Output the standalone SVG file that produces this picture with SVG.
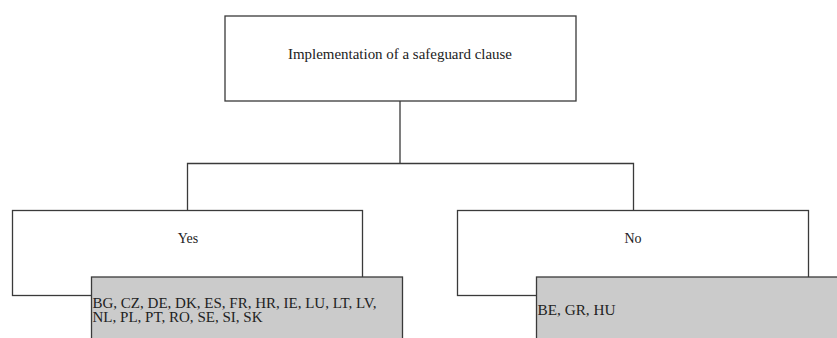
<svg xmlns="http://www.w3.org/2000/svg" width="837" height="338" viewBox="0 0 837 338">
<style>
.box{fill:#ffffff;stroke:#3a3a3a;stroke-width:1.3}
.gbox{fill:#cbcbcb;stroke:#3a3a3a;stroke-width:1.3}
.t{font-family:"Liberation Serif","Times New Roman",serif;fill:#222;font-size:14px}
.c{text-anchor:middle}
.conn{fill:none;stroke:#3a3a3a;stroke-width:1.3}
</style>
<rect width="837" height="338" fill="#ffffff"/>
<g id="connectors">
<path class="conn" d="M400,101 V163.5 M187.5,210.5 V163.5 H633.5 V210.5"/>
</g>
<g id="root">
<rect class="box" x="225" y="16" width="351" height="85"/>
<text class="t c" x="400" y="59" textLength="224" lengthAdjust="spacingAndGlyphs">Implementation of a safeguard clause</text>
</g>
<g id="yes">
<rect class="box" x="12.5" y="210.5" width="350" height="85"/>
<text class="t c" x="188" y="243">Yes</text>
</g>
<g id="no">
<rect class="box" x="457.5" y="210.5" width="351" height="85"/>
<text class="t c" x="633" y="243">No</text>
</g>
<g id="yes-list">
<rect class="gbox" x="91.5" y="277" width="311" height="70"/>
<text class="t" x="92.5" y="308" font-size="15" textLength="284" lengthAdjust="spacingAndGlyphs">BG, CZ, DE, DK, ES, FR, HR, IE, LU, LT, LV,</text>
<text class="t" x="92.5" y="322" font-size="15" textLength="170" lengthAdjust="spacingAndGlyphs">NL, PL, PT, RO, SE, SI, SK</text>
</g>
<g id="no-list">
<rect class="gbox" x="536.5" y="277" width="310" height="70"/>
<text class="t" x="537.5" y="315" font-size="15" textLength="78" lengthAdjust="spacingAndGlyphs">BE, GR, HU</text>
</g>
</svg>
